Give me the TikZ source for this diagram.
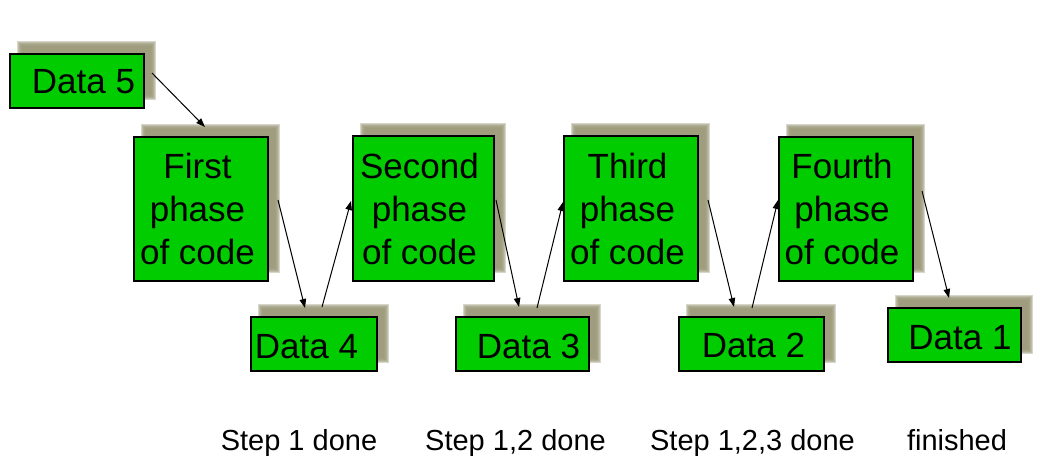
\documentclass[tikz,border=0pt]{standalone}
\usepackage{fontspec}
\setmainfont{Liberation Sans}
\usetikzlibrary{calc,arrows.meta,backgrounds}
\definecolor{boxgreen}{HTML}{00CC00}
\definecolor{shadowc}{HTML}{9A9878}
\tikzset{
  box/.style={draw=black, line width=1.1pt, fill=boxgreen, inner sep=0pt, outer sep=0pt},
  boxtxt/.style={font=\fontsize{35}{43}\selectfont, align=center, inner sep=0pt},
  steptxt/.style={font=\fontsize{29}{34}\selectfont, inner sep=0pt, anchor=base},
  arr/.style={line width=1pt, -{Triangle[length=9pt,width=6.5pt]}},
}
\newcommand{\blurshadow}[1]{%
  \foreach \k in {-2.5,-1.5,-0.5,0.5,1.5,2.5}{%
    \fill[shadowc, fill opacity=0.4]
      ($(#1.south west)+(9-\k,-10.5+\k)$) rectangle ($(#1.north east)+(9+\k,-10.5-\k)$);
  }%
}
\begin{document}
\begin{tikzpicture}[x=1pt,y=-1pt]
\useasboundingbox (0,0) rectangle (1051,476);
% boxes
\node[box, minimum width=134pt, minimum height=54pt] (d5) at (77,81) {};
\node[box, minimum width=134pt, minimum height=144pt] (p1) at (201,209) {};
\node[box, minimum width=141pt, minimum height=145pt] (p2) at (423.5,208.5) {};
\node[box, minimum width=134pt, minimum height=145pt] (p3) at (631,208.5) {};
\node[box, minimum width=134pt, minimum height=144pt] (p4) at (846,209) {};
\node[box, minimum width=126pt, minimum height=54pt] (d4) at (314,344) {};
\node[box, minimum width=133pt, minimum height=54pt] (d3) at (522.5,344) {};
\node[box, minimum width=145pt, minimum height=54pt] (d2) at (751.5,344) {};
\node[box, minimum width=133pt, minimum height=54pt] (d1) at (954.5,335) {};
% shadows
\begin{scope}[on background layer]
  \blurshadow{d5}\blurshadow{p1}\blurshadow{p2}\blurshadow{p3}\blurshadow{p4}
  \blurshadow{d4}\blurshadow{d3}\blurshadow{d2}\blurshadow{d1}
\end{scope}
% box texts
\node[boxtxt, anchor=base] (t5) at (83.5,94) {Data 5};
\node[boxtxt] (tp1) at (197.5,209) {First\\phase\\of code};
\node[boxtxt] (tp2) at (419.5,208.5) {Second\\phase\\of code};
\node[boxtxt] (tp3) at (627.5,208.5) {Third\\phase\\of code};
\node[boxtxt] (tp4) at (842,209) {Fourth\\phase\\of code};
\node[boxtxt, anchor=base] (t4) at (306.5,358) {Data 4};
\node[boxtxt, anchor=base] (t3) at (528.5,358) {Data 3};
\node[boxtxt, anchor=base] (t2) at (753.5,357) {Data 2};
\node[boxtxt, anchor=base] (t1) at (960,349) {Data 1};
% step labels
\node[steptxt] (s1) at (299,450) {Step 1 done};
\node[steptxt] (s2) at (515.5,450) {Step 1,2 done};
\node[steptxt] (s3) at (752.5,450) {Step 1,2,3 done};
\node[steptxt] (s4) at (957,450) {finished};
% arrows
\draw[arr] ($(d5.east)+(8,-8)$) -- ($(p1.north)+(4,-10)$);
\draw[arr] ($(p1.east)+(10,-9)$) -- ($(d4.north)+(-9,-9)$);
\draw[arr] ($(d4.north)+(8,-10)$) -- ($(p2.west)+(-2,-7.5)$);
\draw[arr] ($(p2.east)+(2,-8.5)$) -- ($(d3.north)+(-3.5,-10)$);
\draw[arr] ($(d3.north)+(14.5,-9)$) -- ($(p3.west)+(-1,-6.5)$);
\draw[arr] ($(p3.east)+(10,-8.5)$) -- ($(d2.north)+(-17.5,-10)$);
\draw[arr] ($(d2.north)+(0.5,-9)$) -- ($(p4.west)+(-1,-9)$);
\draw[arr] ($(p4.east)+(9,-18)$) -- ($(d1.north)+(-5.5,-10)$);
\end{tikzpicture}
\end{document}
